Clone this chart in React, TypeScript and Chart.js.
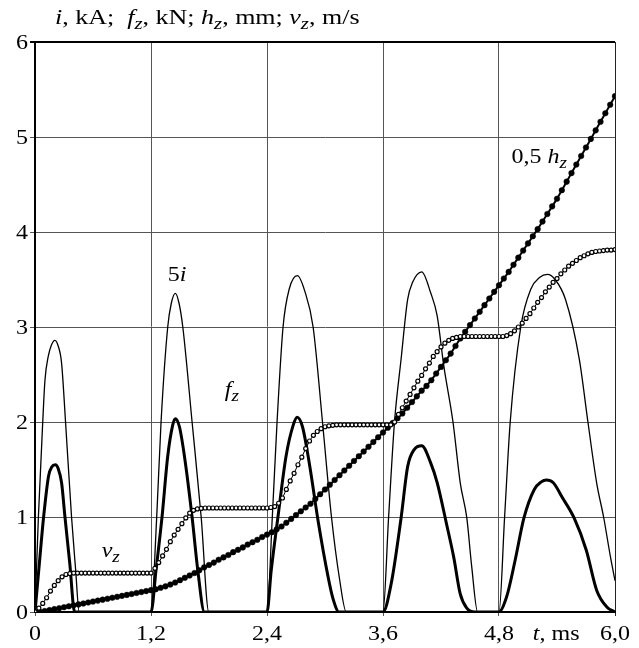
import React, { useEffect, useRef } from "react";
import { Chart, registerables } from "chart.js";

Chart.register(...registerables);

// ---------- data ----------
const xTicks = [0, 1.2, 2.4, 3.6, 4.8, 6.0];
const yTicks = [0, 1, 2, 3, 4, 5, 6];

// 5i (thin line)
const currentT = [
  0, 0.035, 0.08, 0.103, 0.137, 0.17, 0.206, 0.24, 0.275, 0.316, 0.378, 0.42, 0.457,
  1.2, 1.259, 1.304, 1.373, 1.41, 1.452, 1.49, 1.529, 1.625, 1.719, 1.798,
  2.4, 2.455, 2.504, 2.566, 2.63, 2.715, 2.79, 2.877, 2.974, 3.067, 3.15, 3.22,
  3.6, 3.658, 3.719, 3.787, 3.855, 3.906, 4.001, 4.093, 4.16, 4.229, 4.324, 4.399, 4.467, 4.518, 4.579,
  4.8, 4.858, 4.916, 5.025, 5.13, 5.219, 5.301, 5.38, 5.488, 5.631, 5.72, 5.81, 5.882, 5.953, 6.0,
];
const currentV = [
  0, 1.0, 2.0, 2.44, 2.69, 2.81, 2.86, 2.8, 2.62, 2.0, 1.0, 0.45, 0,
  0, 1.0, 2.0, 3.0, 3.25, 3.355, 3.25, 3.0, 2.0, 1.0, 0,
  0, 1.0, 2.0, 3.0, 3.4, 3.54, 3.38, 3.0, 2.0, 1.0, 0.35, 0,
  0, 1.0, 2.0, 2.66, 3.29, 3.47, 3.58, 3.36, 3.12, 2.59, 2.0, 1.36, 0.99, 0.475, 0,
  0, 1.0, 2.0, 3.0, 3.4, 3.52, 3.554, 3.5, 3.29, 2.66, 2.0, 1.36, 1.0, 0.58, 0.33,
];

// f_z (thick line)
const forceT = [
  0, 0.045, 0.089, 0.14, 0.175, 0.21, 0.24, 0.275, 0.31, 0.36, 0.41,
  1.2, 1.252, 1.314, 1.373, 1.425, 1.452, 1.494, 1.546, 1.625, 1.684, 1.753,
  2.4, 2.444, 2.512, 2.597, 2.672, 2.712, 2.767, 2.84, 2.93, 3.03, 3.08, 3.145,
  3.6, 3.685, 3.787, 3.855, 3.923, 4.001, 4.093, 4.161, 4.263, 4.331, 4.399, 4.467, 4.552,
  4.8, 4.879, 4.968, 5.058, 5.165, 5.237, 5.29, 5.362, 5.452, 5.577, 5.703, 5.81, 5.918, 6.0,
];
const forceV = [
  0, 0.51, 1.0, 1.43, 1.53, 1.55, 1.51, 1.36, 1.0, 0.51, 0,
  0, 0.44, 1.0, 1.64, 1.97, 2.035, 1.95, 1.64, 1.0, 0.44, 0,
  0, 0.44, 0.99, 1.64, 1.97, 2.05, 1.95, 1.55, 0.95, 0.38, 0.15, 0,
  0, 0.3, 0.99, 1.53, 1.71, 1.75, 1.57, 1.36, 0.9, 0.58, 0.19, 0.04, 0,
  0, 0.16, 0.55, 0.99, 1.29, 1.37, 1.39, 1.36, 1.21, 0.99, 0.65, 0.23, 0.05, 0,
];

// v_z (open circles), sampled every 0.04 ms
const vzStep = 0.04;
const vzValues = [
  0, 0.04, 0.09, 0.15, 0.22, 0.28, 0.33, 0.37, 0.395, 0.405, 0.41,
  0.41, 0.41, 0.41, 0.41, 0.41, 0.41, 0.41, 0.41, 0.41, 0.41,
  0.41, 0.41, 0.41, 0.41, 0.41, 0.41, 0.41, 0.41, 0.41, 0.41,
  0.46, 0.52, 0.59, 0.66, 0.74, 0.81, 0.87, 0.93, 0.99, 1.04, 1.07, 1.085, 1.09,
  1.095, 1.095, 1.095, 1.095, 1.095, 1.095, 1.095, 1.095, 1.095,
  1.095, 1.095, 1.095, 1.095, 1.095, 1.095, 1.095, 1.095,
  1.1, 1.11, 1.145, 1.2, 1.29, 1.38, 1.46, 1.55, 1.63, 1.72, 1.8, 1.86, 1.9, 1.93, 1.95, 1.96, 1.965,
  1.97, 1.97, 1.97, 1.97, 1.97, 1.97, 1.97, 1.97, 1.97, 1.97, 1.97, 1.97, 1.97, 1.97, 1.97,
  2.0, 2.08, 2.15, 2.22, 2.29, 2.36, 2.43, 2.49, 2.56, 2.62, 2.69, 2.74, 2.79, 2.83, 2.86, 2.88, 2.89,
  2.9, 2.9, 2.9, 2.9, 2.9, 2.9, 2.9, 2.9, 2.9, 2.9, 2.9, 2.9,
  2.91, 2.93, 2.96, 3.0, 3.04, 3.09, 3.14, 3.2, 3.26, 3.31, 3.37, 3.42, 3.47, 3.51, 3.56,
  3.6, 3.64, 3.67, 3.7, 3.73, 3.75, 3.77, 3.785, 3.795, 3.8, 3.805, 3.81, 3.81, 3.815,
];

// 0.5 h_z (filled circles), sampled every 0.05 ms
const hzStep = 0.05;
const hzValues = [
  0, 0.003, 0.01, 0.02, 0.03, 0.04, 0.05, 0.06,
  0.07, 0.08, 0.09, 0.1, 0.11, 0.12, 0.13, 0.14, 0.15, 0.16, 0.17, 0.18, 0.19, 0.2, 0.21, 0.22, 0.23,
  0.24, 0.255, 0.27, 0.29, 0.31, 0.335, 0.36, 0.385, 0.41, 0.44, 0.47, 0.495,
  0.52, 0.55, 0.575, 0.6, 0.63, 0.655, 0.68, 0.71, 0.735, 0.76, 0.79, 0.815,
  0.84, 0.87, 0.9, 0.94, 0.98, 1.02, 1.06, 1.1, 1.14, 1.19, 1.24, 1.29,
  1.34, 1.39, 1.44, 1.49, 1.54, 1.59, 1.64, 1.69, 1.74, 1.79, 1.84, 1.89,
  1.94, 1.99, 2.04, 2.09, 2.15, 2.21, 2.27, 2.33, 2.38, 2.44, 2.51, 2.58,
  2.65, 2.72, 2.8, 2.88, 2.95, 3.02, 3.09, 3.16, 3.23, 3.3, 3.37, 3.44,
  3.51, 3.58, 3.655, 3.73, 3.805, 3.88, 3.955, 4.03, 4.11, 4.19, 4.27, 4.35,
  4.44, 4.53, 4.62, 4.71, 4.8, 4.89, 4.98, 5.07, 5.16, 5.25, 5.34, 5.43,
];

// ---------- presentation ----------
const FAMILY = "Liberation Serif";
const FONT = `"${FAMILY}", "Times New Roman", serif`;
const FS = 20;
const STRETCH = 1.2;
const TITLE_STRETCH = 1.3;

type Part = { t: string; i?: boolean; sub?: boolean };

const titleParts: Part[] = [
  { t: "i", i: true }, { t: ", kA;  " },
  { t: "f", i: true }, { t: "z", i: true, sub: true }, { t: ", kN; " },
  { t: "h", i: true }, { t: "z", i: true, sub: true }, { t: ", mm; " },
  { t: "v", i: true }, { t: "z", i: true, sub: true }, { t: ", m/s" },
];

const seriesLabels: { x: number; y: number; parts: Part[] }[] = [
  { x: 1.374, y: 3.48, parts: [{ t: "5" }, { t: "i", i: true }] },
  { x: 1.963, y: 2.27, parts: [{ t: "f", i: true }, { t: "z", i: true, sub: true }] },
  { x: 0.69, y: 0.58, parts: [{ t: "v", i: true }, { t: "z", i: true, sub: true }] },
  { x: 4.93, y: 4.73, parts: [{ t: "0,5 " }, { t: "h", i: true }, { t: "z", i: true, sub: true }] },
];

const axisTitleParts: Part[] = [{ t: "t", i: true }, { t: ", ms" }];

function partFont(p: Part, size: number) {
  const fs = p.sub ? Math.round(size * 0.8) : size;
  return `${p.i ? "italic " : ""}${fs}px ${FONT}`;
}

function richWidth(ctx: CanvasRenderingContext2D, parts: Part[], size: number) {
  let w = 0;
  for (const p of parts) {
    ctx.font = partFont(p, size);
    w += ctx.measureText(p.t).width;
  }
  return w;
}

function drawRich(
  ctx: CanvasRenderingContext2D,
  x: number,
  y: number,
  parts: Part[],
  size: number,
  sx: number,
  align: "left" | "center" | "right" = "left"
) {
  const w = richWidth(ctx, parts, size) * sx;
  let startX = x;
  if (align === "center") startX = x - w / 2;
  if (align === "right") startX = x - w;
  ctx.save();
  ctx.translate(startX, y);
  ctx.scale(sx, 1);
  ctx.textAlign = "left";
  ctx.textBaseline = "alphabetic";
  let cx = 0;
  for (const p of parts) {
    ctx.font = partFont(p, size);
    ctx.fillText(p.t, cx, p.sub ? size * 0.25 : 0);
    cx += ctx.measureText(p.t).width;
  }
  ctx.restore();
}

function fmtX(v: number) {
  if (v === 0) return "0";
  return v.toFixed(1).replace(".", ",");
}

const textPlugin = {
  id: "richText",
  afterDraw(chart: any) {
    const ctx: CanvasRenderingContext2D = chart.ctx;
    const xs = chart.scales.x;
    const ys = chart.scales.y;
    const area = chart.chartArea;
    ctx.save();
    ctx.fillStyle = "#000";
    for (const v of yTicks) {
      drawRich(ctx, area.left - 7, ys.getPixelForValue(v) + 7, [{ t: String(v) }], FS, STRETCH, "right");
    }
    for (const v of xTicks) {
      drawRich(ctx, xs.getPixelForValue(v), area.bottom + 28, [{ t: fmtX(v) }], FS, STRETCH, "center");
    }
    drawRich(ctx, area.left + 20, area.top - 18, titleParts, FS, TITLE_STRETCH);
    drawRich(ctx, xs.getPixelForValue(5.15), area.bottom + 28, axisTitleParts, FS, STRETCH);
    for (const l of seriesLabels) {
      drawRich(ctx, xs.getPixelForValue(l.x), ys.getPixelForValue(l.y), l.parts, FS, STRETCH);
    }
    ctx.restore();
  },
};

export default function App() {
  const ref = useRef<HTMLCanvasElement | null>(null);

  useEffect(() => {
    if (!ref.current) return;
    const vzData = vzValues.map((v, i) => ({ x: +(i * vzStep).toFixed(3), y: v }));
    const hzData = hzValues.map((v, i) => ({ x: +(i * hzStep).toFixed(3), y: v }));
    const curData = currentT.map((t, i) => ({ x: t, y: currentV[i] }));
    const forceData = forceT.map((t, i) => ({ x: t, y: forceV[i] }));

    const chart = new Chart(ref.current, {
      type: "line",
      data: {
        datasets: [
          {
            label: "5i",
            data: curData,
            borderColor: "#000",
            borderWidth: 1.3,
            pointRadius: 0,
            cubicInterpolationMode: "monotone",
            order: 3,
          },
          {
            label: "fz",
            data: forceData,
            borderColor: "#000",
            borderWidth: 3,
            pointRadius: 0,
            cubicInterpolationMode: "monotone",
            order: 2,
          },
          {
            label: "0,5 hz",
            data: hzData,
            borderColor: "#000",
            borderWidth: 2,
            backgroundColor: "#000",
            pointRadius: 2.8,
            pointBorderWidth: 0.5,
            pointBackgroundColor: "#000",
            pointBorderColor: "#000",
            order: 1,
          },
          {
            label: "vz",
            data: vzData,
            borderColor: "#000",
            borderWidth: 1,
            pointRadius: 2,
            pointBorderWidth: 1.2,
            pointBackgroundColor: "#fff",
            pointBorderColor: "#000",
            order: 0,
          },
        ],
      },
      options: {
        responsive: false,
        maintainAspectRatio: false,
        animation: false,
        events: [],
        font: { family: FONT },
        layout: { padding: { left: 0, right: 24, top: 42, bottom: 0 } },
        plugins: { legend: { display: false }, tooltip: { enabled: false } },
        scales: {
          x: {
            type: "linear",
            min: 0,
            max: 6,
            afterBuildTicks: (s: any) => {
              s.ticks = xTicks.map((v) => ({ value: v }));
            },
            afterFit: (s: any) => {
              s.height = 36;
            },
            ticks: { display: false },
            grid: {
              color: (c: any) => (c.tick && c.tick.value === 6 ? "#222" : "#555"),
              lineWidth: 1,
              tickLength: 4,
            },
            border: { color: "#000", width: 2 },
          },
          y: {
            type: "linear",
            min: 0,
            max: 6,
            afterBuildTicks: (s: any) => {
              s.ticks = yTicks.map((v) => ({ value: v }));
            },
            afterFit: (s: any) => {
              s.width = 35;
            },
            ticks: { display: false },
            grid: {
              color: (c: any) => (c.tick && c.tick.value === 6 ? "#000" : "#555"),
              lineWidth: (c: any) => (c.tick && c.tick.value === 6 ? 2 : 1),
              tickLength: 5,
            },
            border: { color: "#000", width: 2 },
          },
        },
      },
      plugins: [textPlugin],
    } as any);

    let alive = true;
    const fonts: any = (document as any).fonts;
    if (fonts && fonts.load) {
      Promise.all([
        fonts.load(`${FS}px "${FAMILY}"`),
        fonts.load(`italic ${FS}px "${FAMILY}"`),
        fonts.load(`italic ${Math.round(FS * 0.8)}px "${FAMILY}"`),
      ])
        .then(() => {
          if (alive) chart.draw();
        })
        .catch(() => {});
    }
    return () => {
      alive = false;
      chart.destroy();
    };
  }, []);

  return (
    <div style={{ position: "absolute", left: 0, top: 0, width: 639, height: 648, background: "#fff" }}>
      <span
        style={{ position: "absolute", left: -9999, top: 0, fontFamily: `"${FAMILY}"` }}
        aria-hidden="true"
      >
        0 <i>i z</i>
      </span>
      <canvas ref={ref} width={639} height={648} style={{ display: "block" }} />
    </div>
  );
}
